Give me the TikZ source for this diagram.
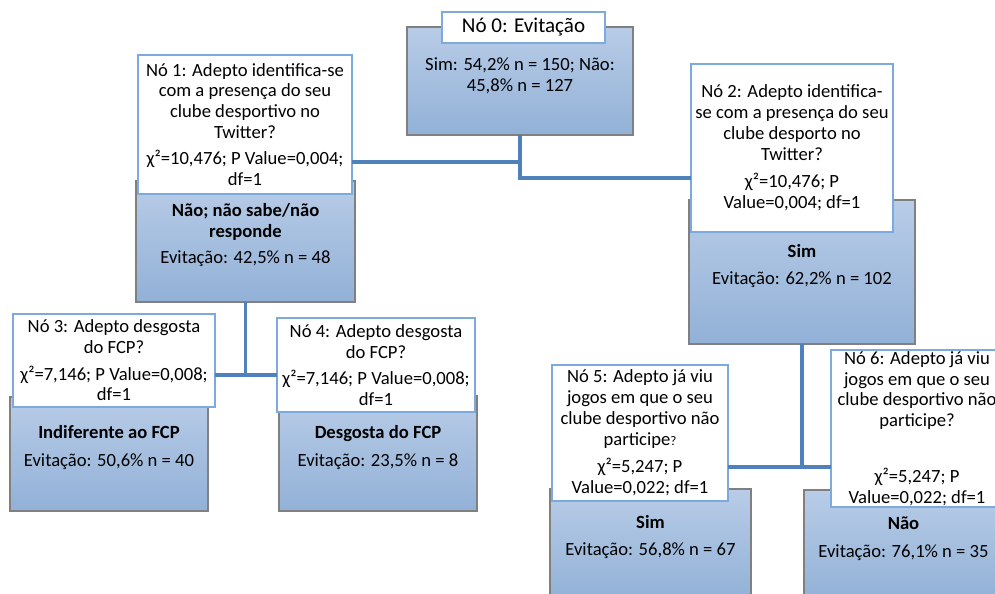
\documentclass[tikz,border=0pt]{standalone}
\usepackage{fontspec}
\setmainfont{Carlito}

\definecolor{boxtop}{RGB}{184,204,231}
\definecolor{boxbot}{RGB}{146,177,215}
\definecolor{boxline}{RGB}{128,128,128}
\definecolor{qline}{RGB}{125,170,222}
\definecolor{linkblue}{RGB}{79,129,189}

\begin{document}
\begin{tikzpicture}[x=0.02cm, y=-0.02cm,
  bluebox/.style={draw=boxline, line width=0.6pt, top color=boxtop, bottom color=boxbot, inner sep=0pt, outer sep=0pt},
  whitebox/.style={draw=qline, line width=0.6pt, fill=white, inner sep=0pt, outer sep=0pt, align=center, font=\fontsize{10.6}{11.8}\selectfont},
  result/.style={align=center, inner sep=0pt, font=\fontsize{10.6}{11.8}\selectfont},
  branch/.style={draw=linkblue, line width=2pt}]

  \clip (0,0) rectangle (995,594);

  % blue result boxes
  \node[bluebox, minimum width=4.52cm, minimum height=2.16cm] (n0) at (520,81) {};
  \node[bluebox, minimum width=4.38cm, minimum height=2.42cm] (n1) at (245.5,241.5) {};
  \node[bluebox, minimum width=4.52cm, minimum height=2.88cm] (n2) at (802,272) {};
  \node[bluebox, minimum width=3.96cm, minimum height=2.28cm] (n3) at (109,454) {};
  \node[bluebox, minimum width=3.96cm, minimum height=2.30cm] (n4) at (378,453.5) {};
  \node[bluebox, minimum width=4.02cm, minimum height=2.22cm] (n5) at (650.5,544.5) {};
  \node[bluebox, minimum width=3.98cm, minimum height=2.20cm] (n6) at (903.5,545) {};

  % question boxes
  \node[whitebox, minimum width=3.26cm, minimum height=0.62cm, font=\fontsize{12}{14}\selectfont] (n0q) at (523.5,27.5) {Nó 0: Evitação};
  \node[whitebox, minimum width=4.28cm, minimum height=2.78cm] (n1q) at (245,124.5)
    {Nó 1: Adepto identifica-se\\com a presença do seu\\clube desportivo no\\Twitter?\\[0.12cm]χ²=10,476; P Value=0,004;\\df=1};
  \node[whitebox, minimum width=4.04cm, minimum height=3.36cm] (n2q) at (792,148)
    {Nó 2: Adepto identifica-\\se com a presença do seu\\clube desporto no\\Twitter?\\[0.14cm]χ²=10,476; P\\Value=0,004; df=1};
  \node[whitebox, minimum width=4.04cm, minimum height=1.86cm] (n3q) at (114,360.5)
    {Nó 3: Adepto desgosta\\do FCP?\\[0.12cm]χ²=7,146; P Value=0,008;\\df=1};
  \node[whitebox, minimum width=3.96cm, minimum height=1.88cm] (n4q) at (376,365)
    {Nó 4: Adepto desgosta\\do FCP?\\[0.12cm]χ²=7,146; P Value=0,008;\\df=1};
  \node[whitebox, minimum width=3.52cm, minimum height=2.72cm] (n5q) at (640,433)
    {Nó 5: Adepto já viu\\jogos em que o seu\\clube desportivo não\\participe{\fontsize{7.5}{8}\selectfont ?}\\[0.14cm]χ²=5,247; P\\Value=0,022; df=1};
  \node[whitebox, minimum width=3.44cm, minimum height=3.14cm] (n6q) at (917,428.5)
    {Nó 6: Adepto já viu\\jogos em que o seu\\clube desportivo não\\participe?\\[0.7cm]χ²=5,247; P\\Value=0,022; df=1};

  % texts in the blue boxes
  \node[result] (n0r) at (520,76) {Sim: 54,2\% n = 150; Não:\\45,8\% n = 127};
  \node[result] (n1r) at (245.5,235) {\textbf{Não; não sabe/não}\\\textbf{responde}\\[0.1cm]Evitação: 42,5\% n = 48};
  \node[result] (n2r) at (802,266) {\textbf{Sim}\\[0.14cm]Evitação: 62,2\% n = 102};
  \node[result] (n3r) at (109,447.5) {\textbf{Indiferente ao FCP}\\[0.16cm]Evitação: 50,6\% n = 40};
  \node[result] (n4r) at (378,447.5) {\textbf{Desgosta do FCP}\\[0.16cm]Evitação: 23,5\% n = 8};
  \node[result] (n5r) at (650.5,537) {\textbf{Sim}\\[0.14cm]Evitação: 56,8\% n = 67};
  \node[result] (n6r) at (903.5,539) {\textbf{Não}\\[0.14cm]Evitação: 76,1\% n = 35};

  % branches
  \coordinate (j0) at (520,162);
  \coordinate (j0r) at (520,178);
  \coordinate (j1) at (245.5,375);
  \coordinate (j2) at (802,467);
  \draw[branch] (n0.south) -- (j0) -- (j0 -| n1q.east);
  \draw[branch] (j0) -- (j0r) -- (j0r -| n2q.west);
  \draw[branch] (n1.south) -- (j1);
  \draw[branch] (j1 -| n3q.east) -- (j1 -| n4q.west);
  \draw[branch] (n2.south) -- (j2);
  \draw[branch] (j2 -| n5q.east) -- (j2 -| n6q.west);
\end{tikzpicture}
\end{document}
